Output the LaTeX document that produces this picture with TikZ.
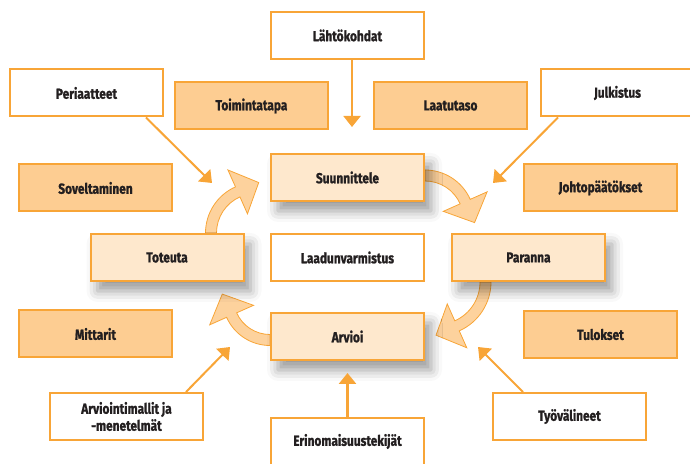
\documentclass[tikz,border=0pt]{standalone}
\usepackage{fontspec}
\setmainfont{Fira Sans}[FakeStretch=0.82, BoldFeatures={FakeBold=1.2}]
\usetikzlibrary{arrows.meta,shadows.blur}
\definecolor{edge}{HTML}{F8A537}
\definecolor{darkfill}{HTML}{FDCD92}
\definecolor{lightfill}{HTML}{FEE8CD}
\definecolor{ink}{HTML}{231F20}

% curved cycle arrow: centre x, centre y, rotation, radius
\newcommand\cyclearrow[4]{%
  \begin{scope}[shift={(#1,#2)}, rotate=#3]
    \filldraw[bigarrow]
      (90:{#4+5.5}) arc[start angle=90, end angle=24, radius={#4+5.5}]
      -- (24:{#4+24})
      -- ({#4*cos(24)+23*sin(24)}, {#4*sin(24)-23*cos(24)})
      -- (24:{#4-24})
      -- (24:{#4-5.5}) arc[start angle=24, end angle=90, radius={#4-5.5}]
      -- cycle;
  \end{scope}}

\begin{document}
\begin{tikzpicture}[x=1pt, y=1pt,
  box/.style={draw=edge, line width=2pt, minimum width=153pt, minimum height=47pt,
    inner sep=0pt, font=\fontsize{14.5}{17}\selectfont\bfseries, text=ink, align=center},
  plainbox/.style={box, fill=white},
  keybox/.style={box, fill=darkfill},
  stepbox/.style={box, fill=lightfill,
    blur shadow={shadow xshift=7pt, shadow yshift=-10pt, shadow blur radius=11pt, shadow opacity=40}},
  feed/.style={draw=edge, line width=2pt, -{Triangle[width=17pt, length=11pt]}},
  bigarrow/.style={draw=edge, line width=0.8pt, fill=darkfill, fill opacity=0.9}]

\useasboundingbox (0,0) rectangle (690,463);

% cycle arrows
\cyclearrow{425}{243.5}{0}{44}
\cyclearrow{437.5}{181}{-90}{48}
\cyclearrow{270}{165}{-180}{42}
\cyclearrow{256}{230}{90}{45}

% cycle steps
\node[stepbox] (plan)    at (347.5,285.5) {Suunnittele};
\node[stepbox] (do)      at (167,205.5)   {Toteuta};
\node[stepbox] (improve) at (528.5,205.5) {Paranna};
\node[stepbox] (check)   at (347.5,126.5) {Arvioi};
\node[plainbox] (qa)     at (347.5,205.5) {Laadunvarmistus};

% inputs
\node[plainbox] (lahto) at (347.5,427.5) {Lähtökohdat};
\node[plainbox] (peri)  at (86.5,370)    {Periaatteet};
\node[plainbox] (julk)  at (617.5,370)   {Julkistus};
\node[plainbox] (arvm)  at (126.5,46.5)  {Arviointimallit ja\\-menetelmät};
\node[plainbox] (tyo)   at (569.5,46.5)  {Työvälineet};
\node[plainbox] (erin)  at (347.5,21.5)  {Erinomaisuustekijät};

% key topics
\node[keybox] (toim) at (251.5,357)   {Toimintatapa};
\node[keybox] (laat) at (450.5,357.5) {Laatutaso};
\node[keybox] (sove) at (95.5,275)    {Soveltaminen};
\node[keybox] (joht) at (600.5,275)   {Johtopäätökset};
\node[keybox] (mitt) at (95.5,129)    {Mittarit};
\node[keybox] (tulo) at (600.5,128.5) {Tulokset};

% arrow tips of the inputs
\coordinate (tlahto) at (352,336);
\coordinate (tperi)  at (212,280);
\coordinate (tjulk)  at (493,280);
\coordinate (tarvm)  at (230,116);
\coordinate (ttyo)   at (478,116);
\coordinate (terin)  at (347.5,90);

\draw[feed] (lahto.south -| tlahto) -- (tlahto);
\draw[feed] ([xshift=59.5pt]peri.south) -- (tperi);
\draw[feed] ([xshift=-59.5pt]julk.south) -- (tjulk);
\draw[feed] ([xshift=59.5pt]arvm.north) -- (tarvm);
\draw[feed] ([xshift=-46.5pt]tyo.north) -- (ttyo);
\draw[feed, line width=3pt] (erin.north) -- (terin);
\end{tikzpicture}
\end{document}
